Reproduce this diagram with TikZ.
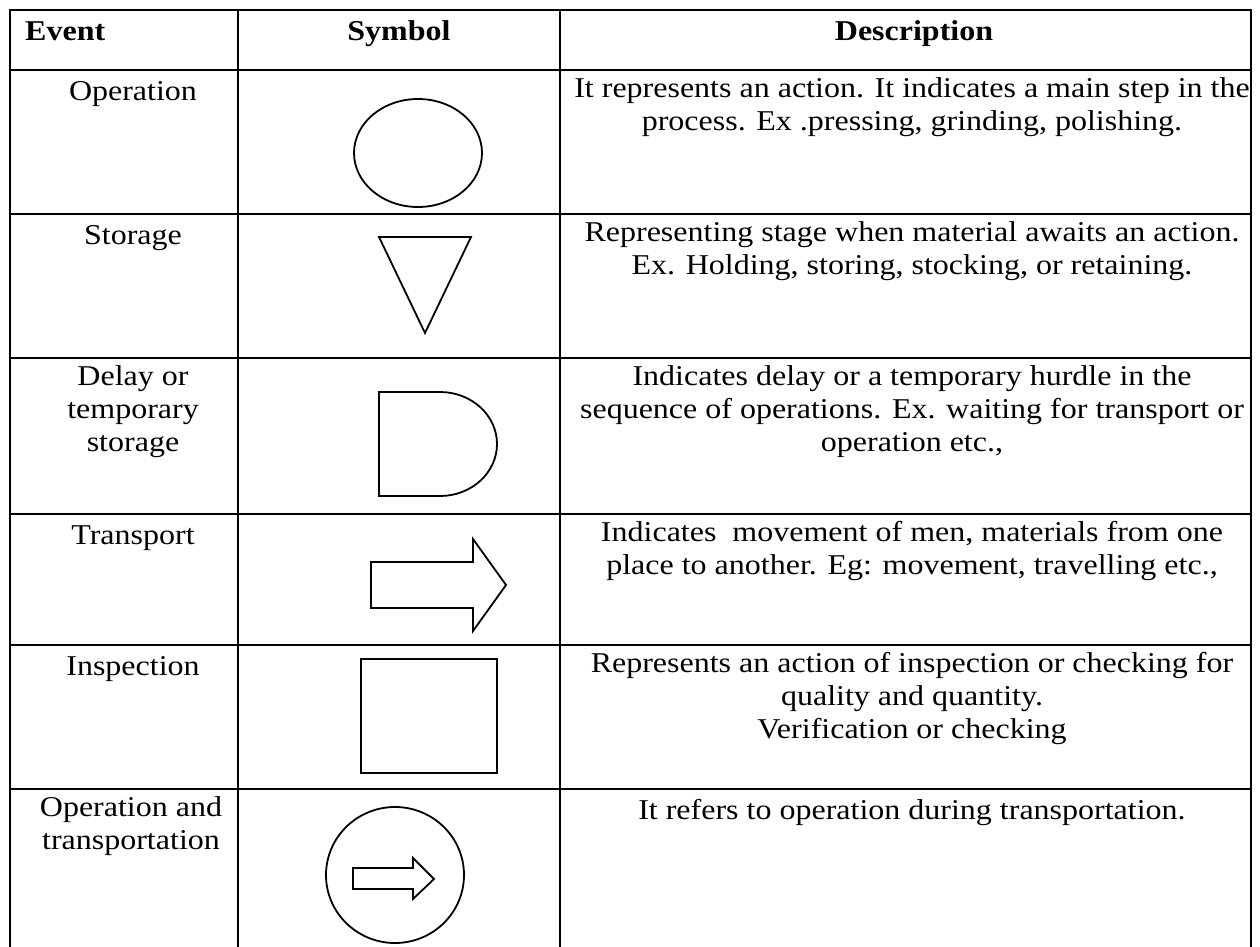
\documentclass[tikz,border=0pt]{standalone}
\usepackage{fontspec}
\setmainfont{Liberation Serif}[FakeStretch=1.115]
\begin{document}
\begin{tikzpicture}[x=1pt,y=-1pt,
  grid/.style={line width=2.6pt},
  sym/.style={line width=1.8pt, line join=miter},
  cell/.style={anchor=north, inner sep=0pt, align=center,
    font=\fontsize{28.7}{33}\selectfont, execute at begin node=\strut},
  head/.style={cell, font=\fontsize{28.7}{33}\selectfont\bfseries}]
\useasboundingbox (0,0) rectangle (1260,947);

% table rules
\draw[grid] (10,947) -- (10,10) -- (1251,10) -- (1251,947);
\foreach \y in {70,214,358,514,645,789} \draw[grid] (10,\y) -- (1251,\y);
\draw[grid] (238,10) -- (238,947);
\draw[grid] (560,10) -- (560,947);

% header
\node[head, anchor=north west] (hEvent) at (25,17) {Event};
\node[head] (hSymbol) at (399,17) {Symbol};
\node[head] (hDesc) at (914,17) {Description};

% event names
\node[cell] (eOp) at (133,77) {Operation};
\node[cell] (eSt) at (133,221) {Storage};
\node[cell] (eDe) at (133,365) {Delay or\\temporary\\storage};
\node[cell] (eTr) at (133,521) {Transport};
\node[cell] (eIn) at (133,652) {Inspection};
\node[cell] (eOT) at (131,796) {Operation and\\transportation};

% descriptions
\node[cell] (dOp) at (912,77) {It represents an action. It indicates a main step in the\\process. Ex .pressing, grinding, polishing.};
\node[cell] (dSt) at (912,221) {Representing stage when material awaits an action.\\Ex. Holding, storing, stocking, or retaining.};
\node[cell] (dDe) at (912,365) {Indicates delay or a temporary hurdle in the\\sequence of operations. Ex. waiting for transport or\\operation etc.,};
\node[cell] (dTr) at (912,521) {Indicates\ \ movement of men, materials from one\\place to another. Eg: movement, travelling etc.,};
\node[cell] (dIn) at (912,652) {Represents an action of inspection or checking for\\quality and quantity.\\Verification or checking};
\node[cell] (dOT) at (912,796) {It refers to operation during transportation.};

% symbols
\draw[sym] (418,153) ellipse[x radius=64, y radius=54];
\draw[sym] (379,237) -- (471,237) -- (425,333) -- cycle;
\draw[sym] (379,392) -- (440,392) arc[start angle=-90, end angle=90, x radius=57, y radius=52] -- (379,496) -- cycle;
\draw[sym] (371,562) -- (473,562) -- (473,539) -- (506,585) -- (473,631) -- (473,608) -- (371,608) -- cycle;
\draw[sym] (361,659) rectangle (497,773);
\draw[sym] (395,875) ellipse[x radius=69, y radius=68];
\draw[sym] (353,868) -- (413,868) -- (413,858) -- (434,879) -- (413,899) -- (413,889) -- (353,889) -- cycle;
\end{tikzpicture}
\end{document}
